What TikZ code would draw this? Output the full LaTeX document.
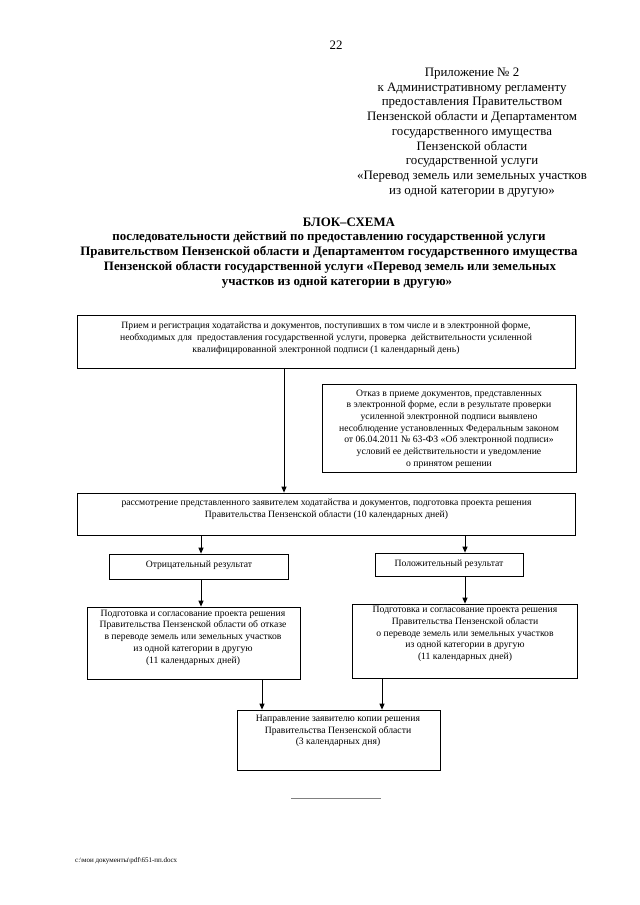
\documentclass[tikz,border=0pt]{standalone}
\usepackage{fontspec}
\setmainfont{Liberation Serif}
\usetikzlibrary{arrows.meta,fit}
\tikzset{
  box/.style={draw, line width=0.7pt, inner sep=0pt, rectangle},
  txt/.style={align=center, inner sep=0pt, font=\fontsize{9}{10.9}\selectfont},
  hdr/.style={align=center, inner sep=0pt, font=\fontsize{12}{13.7}\selectfont},
  ttl/.style={inner sep=0pt, font=\fontsize{12}{13.7}\selectfont\bfseries},
  arr/.style={line width=0.9pt, -{Triangle[length=5.5pt,width=4.6pt]}},
}
\begin{document}
\begin{tikzpicture}[x=0.93pt,y=-0.93pt]
\useasboundingbox (0,0) rectangle (640,905);
\fill[white] (0,0) rectangle (640,905);

\node[hdr] (pg) at (336,45) {22};
\node[hdr] (app) at (472,132.5) {Приложение № 2\\к Административному регламенту\\предоставления Правительством\\Пензенской области и Департаментом\\государственного имущества\\Пензенской области\\государственной услуги\\«Перевод земель или земельных участков\\из одной категории в другую»};

\node[ttl] (t1) at (349,222) {БЛОК–СХЕМА};
\node[ttl] (t2) at (329,237) {последовательности действий по предоставлению государственной услуги};
\node[ttl] (t3) at (329,252) {Правительством Пензенской области и Департаментом государственного имущества};
\node[ttl] (t4) at (330,267.5) {Пензенской области государственной услуги «Перевод земель или земельных};
\node[ttl] (t5) at (337,282.5) {участков из одной категории в другую»};

% boxes
\node[box, fit={(77,315) (575,368)}] (b1) {};
\node[box, fit={(322,384) (576,472)}] (otk) {};
\node[box, fit={(77,493) (575,535)}] (b2) {};
\node[box, fit={(109,554) (288,579)}] (neg) {};
\node[box, fit={(375,553) (523,576)}] (pos) {};
\node[box, fit={(87,607) (300,679)}] (lp) {};
\node[box, fit={(352,604) (577,678)}] (rp) {};
\node[box, fit={(237,710) (440,770)}] (np) {};

% texts
\node[txt] (b1t) at (326,338) {Прием и регистрация ходатайства и документов, поступивших в том числе и в электронной форме,\\необходимых для\ \ предоставления государственной услуги, проверка\ \ действительности усиленной\\квалифицированной электронной подписи (1 календарный день)};
\node[txt] (otkt) at (449,429) {Отказ в приеме документов, представленных\\в электронной форме, если в результате проверки\\усиленной электронной подписи выявлено\\несоблюдение установленных Федеральным законом\\от 06.04.2011 № 63-ФЗ «Об электронной подписи»\\условий ее действительности и уведомление\\о принятом решении};
\node[txt] (b2t) at (326.5,509) {рассмотрение представленного заявителем ходатайства и документов, подготовка проекта решения\\Правительства Пензенской области (10 календарных дней)};
\node[txt] (negt) at (199,565.5) {Отрицательный результат};
\node[txt] (post) at (449,564) {Положительный результат};
\node[txt] (lpt) at (193,637.5) {Подготовка и согласование проекта решения\\Правительства Пензенской области об отказе\\в переводе земель или земельных участков\\из одной категории в другую\\(11 календарных дней)};
\node[txt] (rpt) at (465,634) {Подготовка и согласование проекта решения\\Правительства Пензенской области\\о переводе земель или земельных участков\\из одной категории в другую\\(11 календарных дней)};
\node[txt] (npt) at (338,731) {Направление заявителю копии решения\\Правительства Пензенской области\\(3 календарных дня)};

% connector x positions
\coordinate (xa) at (284,0);
\coordinate (xb) at (201,0);
\coordinate (xc) at (465,0);
\coordinate (xd) at (262,0);
\coordinate (xe) at (382,0);

\draw[arr] (b1.south -| xa) -- (b2.north -| xa);
\draw[arr] (b2.south -| xb) -- (neg.north -| xb);
\draw[arr] (b2.south -| xc) -- (pos.north -| xc);
\draw[arr] (neg.south -| xb) -- (lp.north -| xb);
\draw[arr] (pos.south -| xc) -- (rp.north -| xc);
\draw[arr] (lp.south -| xd) -- (np.north -| xd);
\draw[arr] (rp.south -| xe) -- (np.north -| xe);

% separator and footer
\coordinate (s1) at (291,798);
\coordinate (s2) at (381,798);
\draw[gray, line width=0.6pt] (s1) -- (s2);
\node[anchor=west, inner sep=0pt, font=\fontsize{6.5}{7}\selectfont] (ft) at (75,861) {c:\textbackslash мои документы\textbackslash pdf\textbackslash 651-пп.docx};
\end{tikzpicture}
\end{document}
